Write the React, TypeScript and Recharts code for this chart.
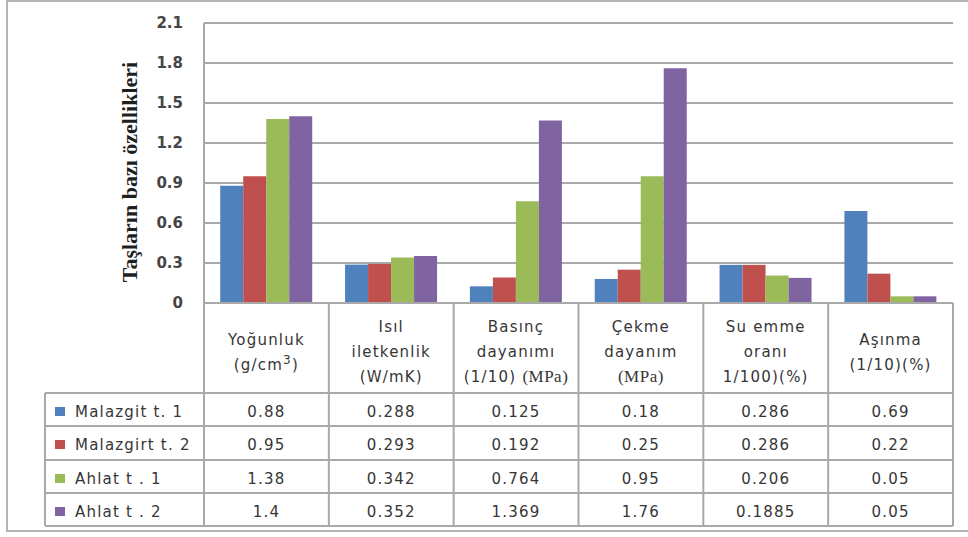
import React from 'react';
import { BarChart, Bar, XAxis, YAxis, CartesianGrid } from 'recharts';

// Property groups shown along the x axis (header cells of the data table)
const categories = ['Yoğunluk', 'Isıl iletkenlik', 'Basınç dayanımı', 'Çekme dayanım', 'Su emme oranı', 'Aşınma'];
const headerLines: string[][] = [
  ['Yoğunluk', '(g/cm3)'],
  ['Isıl', 'iletkenlik', '(W/mK)'],
  ['Basınç', 'dayanımı', '(1/10) (MPa)'],
  ['Çekme', 'dayanım', '(MPa)'],
  ['Su emme', 'oranı', '1/100)(%)'],
  ['Aşınma', '(1/10)(%)'],
];

// Stone samples
const seriesNames = ['Malazgit t. 1', 'Malazgirt t. 2', 'Ahlat t . 1', 'Ahlat t . 2'];
const malazgirt1 = [0.88, 0.288, 0.125, 0.18, 0.286, 0.69];
const malazgirt2 = [0.95, 0.293, 0.192, 0.25, 0.286, 0.22];
const ahlat1 = [1.38, 0.342, 0.764, 0.95, 0.206, 0.05];
const ahlat2 = [1.4, 0.352, 1.369, 1.76, 0.1885, 0.05];
const yTicks = [0, 0.3, 0.6, 0.9, 1.2, 1.5, 1.8, 2.1];

const seriesValues = [malazgirt1, malazgirt2, ahlat1, ahlat2];
const seriesKeys = ['s1', 's2', 's3', 's4'];
const colors = ['#4F81BD', '#C0504D', '#9BBB59', '#8064A2'];

const data = categories.map((c, i) => ({
  name: c,
  s1: malazgirt1[i],
  s2: malazgirt2[i],
  s3: ahlat1[i],
  s4: ahlat2[i],
}));

// Layout
const W = 968;
const H = 537;
const AXIS_W = 204;
const RIGHT = 15;
const TOP = 23;
const BASE = 303;
const BAND = (W - AXIS_W - RIGHT) / categories.length;
const LEGEND_LEFT = 45;
const TABLE_RIGHT = W - RIGHT;
const ROWS = [393, 426, 460, 493, 526];

const LINE = '#a9a9a9';
const TEXT = '#363636';
const SANS = '"DejaVu Sans", Verdana, sans-serif';
const SERIF = '"Liberation Serif", "Times New Roman", serif';

function HeaderLine({ text, x, y }: { text: string; x: number; y: number }) {
  const sup = text.match(/^(.*cm)(\d)(\))$/);
  if (sup) {
    return (
      <text x={x} y={y} textAnchor="middle" fontFamily={SANS} fontSize={15} letterSpacing={1.2} fill={TEXT}>
        <tspan>{sup[1]}</tspan>
        <tspan dy={-6} fontSize={12}>{sup[2]}</tspan>
        <tspan dy={6}>{sup[3]}</tspan>
      </text>
    );
  }
  const serif = text.match(/^(.*?)(\(MPa\))$/);
  if (serif) {
    return (
      <text x={x} y={y} textAnchor="middle" fontFamily={SANS} fontSize={15} letterSpacing={1.2} fill={TEXT}>
        <tspan>{serif[1]}</tspan>
        <tspan fontFamily={SERIF} fontSize={17} letterSpacing={0.5}>{serif[2]}</tspan>
      </text>
    );
  }
  return (
    <text x={x} y={y} textAnchor="middle" fontFamily={SANS} fontSize={15} letterSpacing={1.2} fill={TEXT}>
      {text}
    </text>
  );
}

// Each x-axis tick draws its column of the data table below the plot
function TableTick(props: any) {
  const { x, payload } = props;
  const i: number = payload.index;
  const lines = headerLines[i];
  const lineGap = 25;
  const firstBase = lines.length === 3 ? 332 : 345;
  const right = x + BAND / 2;
  return (
    <g>
      {i === 0 && (
        <g>
          {ROWS.map((ry, k) => (
            <line key={k} x1={LEGEND_LEFT} x2={TABLE_RIGHT} y1={ry} y2={ry} stroke={LINE} strokeWidth={2} />
          ))}
          <line x1={LEGEND_LEFT} x2={LEGEND_LEFT} y1={ROWS[0]} y2={ROWS[4]} stroke={LINE} strokeWidth={2} />
          <line x1={AXIS_W} x2={AXIS_W} y1={BASE} y2={ROWS[4]} stroke={LINE} strokeWidth={2} />
          {seriesNames.map((n, k) => (
            <g key={n}>
              <rect x={55} y={ROWS[k] + 14} width={10} height={9} fill={colors[k]} />
              <text x={75} y={ROWS[k] + 24} fontFamily={SANS} fontSize={15} letterSpacing={1.2} fill={TEXT}>
                {n}
              </text>
            </g>
          ))}
        </g>
      )}
      <line x1={right} x2={right} y1={BASE} y2={ROWS[4]} stroke={LINE} strokeWidth={2} />
      {lines.map((t, k) => (
        <HeaderLine key={k} text={t} x={x} y={firstBase + k * lineGap} />
      ))}
      {seriesValues.map((vals, k) => (
        <text key={k} x={x} y={ROWS[k] + 24} textAnchor="middle" fontFamily={SANS} fontSize={15} letterSpacing={1.2} fill={TEXT}>
          {String(vals[i])}
        </text>
      ))}
    </g>
  );
}

function AxisTitle() {
  return (
    <text
      x={129}
      y={172}
      transform="rotate(-90 129 172)"
      textAnchor="middle"
      dominantBaseline="central"
      fontFamily={SERIF}
      fontWeight="bold"
      fontSize={22}
      fill="#1f1f1f"
    >
      Taşların bazı özellikleri
    </text>
  );
}

export default function App() {
  return (
    <div style={{ position: 'absolute', left: 0, top: 0, width: W, height: H, background: '#fff' }}>
      <div
        style={{
          position: 'absolute',
          left: 6,
          top: 0,
          width: W,
          height: 532,
          border: '2px solid #b4b4b4',
          boxSizing: 'border-box',
        }}
      />
      <BarChart
        width={W}
        height={H}
        data={data}
        margin={{ top: TOP, right: RIGHT, bottom: 0, left: 0 }}
        barCategoryGap="13%"
        barGap={0}
        style={{ position: 'absolute', left: 0, top: 0 }}
      >
        <CartesianGrid vertical={false} stroke={LINE} strokeWidth={2} />
        <XAxis
          dataKey="name"
          height={H - BASE}
          axisLine={{ stroke: LINE, strokeWidth: 2 }}
          tickLine={false}
          interval={0}
          tick={<TableTick />}
        />
        <YAxis
          width={AXIS_W}
          domain={[0, 2.1]}
          ticks={yTicks}
          interval={0}
          axisLine={{ stroke: LINE, strokeWidth: 2 }}
          tickLine={false}
          tickSize={6}
          tickMargin={15}
          tick={{ fontFamily: SANS, fontSize: 15, fontWeight: 'bold', fill: '#454545' }}
          label={<AxisTitle />}
        />
        {seriesKeys.map((k, i) => (
          <Bar key={k} dataKey={k} name={seriesNames[i]} fill={colors[i]} isAnimationActive={false} />
        ))}
      </BarChart>
    </div>
  );
}
